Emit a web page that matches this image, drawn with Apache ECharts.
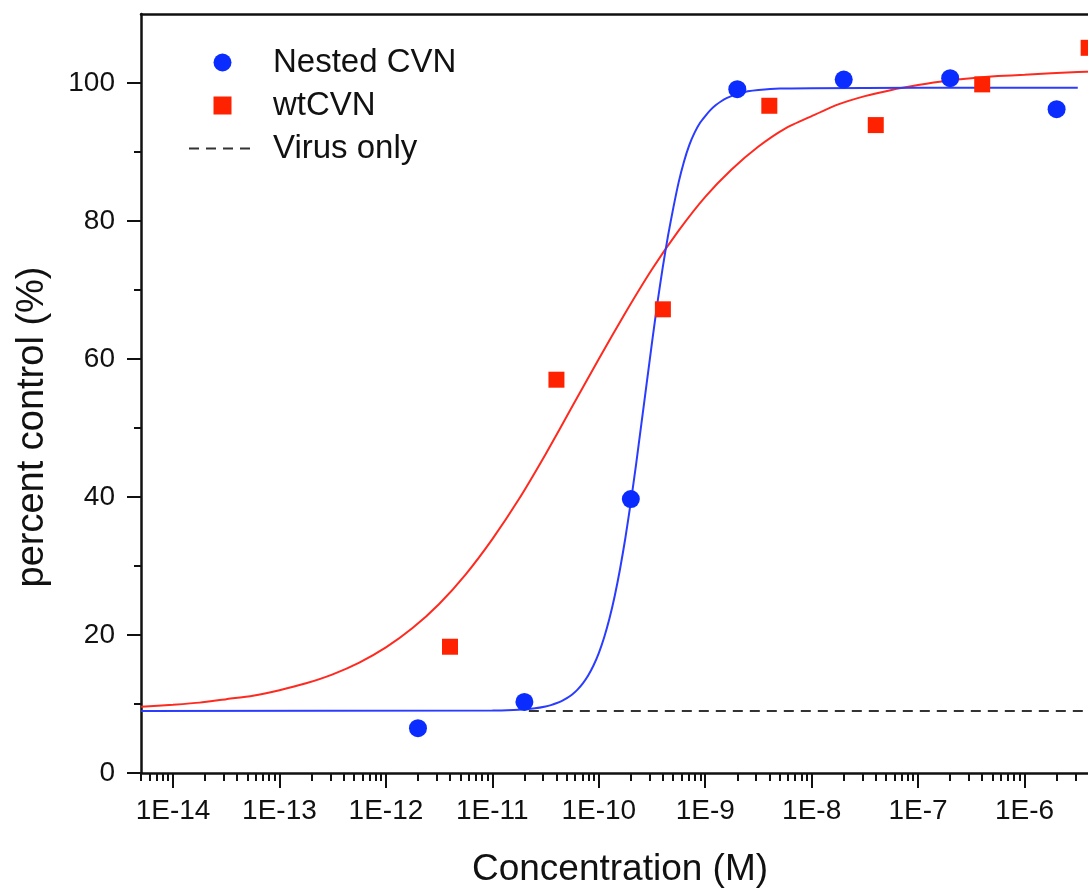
<!DOCTYPE html>
<html>
<head>
<meta charset="utf-8">
<script src="https://cdn.jsdelivr.net/npm/echarts@6/dist/echarts.min.js"></script>
<style>
  html, body { margin: 0; padding: 0; background: #fff; overflow: hidden; }
  /* the plot box runs past the right edge of the 1088px picture, as in the original */
  #chart { width: 1140px; height: 888px; }
</style>
</head>
<body>
<div id="chart"></div>
<script>
// measured points (concentration in M, percent control)
var nestedConc = [2e-12, 2e-11, 2e-10, 2e-9, 2e-8, 2e-7, 2e-6];
var nestedPct = [6.5, 10.3, 39.7, 99.1, 100.5, 100.7, 96.2];
var wtConc = [4e-12, 4e-11, 4e-10, 4e-9, 4e-8, 4e-7, 4e-6];
var wtPct = [18.3, 57.0, 67.2, 96.7, 93.9, 99.8, 105.1];

// fitted curves (log10 of concentration)
var nestedFitLog = [-14.3, -11.0, -10.8, -10.7, -10.6, -10.5, -10.45, -10.4, -10.35, -10.3, -10.25, -10.2, -10.15,
  -10.1, -10.05, -10.0, -9.95, -9.9, -9.85, -9.8, -9.75, -9.7, -9.65, -9.6, -9.55, -9.5, -9.45, -9.4, -9.35, -9.3,
  -9.25, -9.2, -9.15, -9.1, -9.05, -9.0, -8.95, -8.9, -8.85, -8.8, -8.7, -8.6, -8.5, -8.3, -8.0, -7.0, -5.5];
var nestedFitPct = [9.0, 9.05, 9.13, 9.23, 9.38, 9.65, 9.84, 10.1, 10.42, 10.85, 11.39, 12.09, 12.99,
  14.13, 15.58, 17.38, 19.63, 22.38, 25.69, 29.6, 34.1, 39.2, 44.7, 50.6, 56.5, 62.4, 68.05, 73.2, 77.85, 81.9,
  85.6, 88.6, 91.0, 92.8, 94.2, 95.2, 96.1, 96.8, 97.36, 97.8, 98.4, 98.8, 99.0, 99.2, 99.25, 99.3, 99.3];
var wtFitLog = [-14.3, -14.0, -13.75, -13.5, -13.25, -13.0, -12.75, -12.5, -12.25, -12.0, -11.75, -11.5, -11.25,
  -11.0, -10.75, -10.5, -10.25, -10.0, -9.75, -9.5, -9.25, -9.0, -8.75, -8.5, -8.25, -8.0, -7.75, -7.5, -7.25,
  -7.0, -6.75, -6.5, -6.25, -6.0, -5.5, -5.0];
var wtFitPct = [9.6, 9.9, 10.2, 10.7, 11.2, 12.0, 13.0, 14.3, 16.0, 18.2, 21.0, 24.5, 28.8,
  33.9, 39.7, 46.2, 53.1, 60.0, 66.7, 73.0, 78.6, 83.5, 87.5, 90.8, 93.4, 95.2, 96.9, 98.1, 99.0,
  99.7, 100.3, 100.7, 101.0, 101.2, 101.6, 101.8];

// virus only level
var virusConc = [2.2e-11, 1e-5];
var virusPct = [9, 9];

// axes
var xMinConc = 5e-15, xMaxConc = 1e-5;
var decades = [-14, -13, -12, -11, -10, -9, -8, -7, -6];
var minorMult = [2, 3, 4, 5, 6, 7, 8, 9];
var yMajor = [0, 20, 40, 60, 80, 100];
var yMinor = [10, 30, 50, 70, 90];

var xMin = Math.log10(xMinConc), xMax = Math.log10(xMaxConc);
var minorTicks = [];
for (var d = -15; d <= -6; d++) {
  minorMult.forEach(function (m) {
    var v = Math.log10(m) + d;
    if (v >= xMin - 1e-9 && v <= xMax) minorTicks.push(v);
  });
}

function pairs(xs, ys, toLog) {
  return xs.map(function (x, i) { return [toLog ? Math.log10(x) : x, ys[i]]; });
}

var ink = '#111';
var font = 'Liberation Sans, Arial, sans-serif';
var box = { left: 141, top: 14, width: 990, bottom: 115, outerBoundsMode: 'none' };

var chart = echarts.init(document.getElementById('chart'));
var option = {
  animation: false,
  backgroundColor: '#fff',
  grid: [box, box],
  legend: {
    data: [
      { name: 'Nested CVN', icon: 'circle' },
      { name: 'wtCVN', icon: 'path://M0,0H10V10H0Z' },
      { name: 'Virus only', itemStyle: { opacity: 0 } }
    ],
    orient: 'vertical',
    left: 183,
    top: 41,
    itemWidth: 67,
    itemHeight: 18,
    itemGap: 10,
    textStyle: { fontSize: 33, fontFamily: font, color: ink, lineHeight: 32, padding: [0, 0, 0, 12] }
  },
  xAxis: [
    {
      gridIndex: 0, type: 'value', position: 'bottom', min: xMin, max: xMax,
      name: 'Concentration (M)', nameLocation: 'middle', nameGap: 78,
      nameTextStyle: { fontSize: 37, fontFamily: font, color: ink, padding: [0, 32, 0, 0] },
      axisLine: { show: true, lineStyle: { color: ink, width: 2.5 } },
      axisTick: { show: true, length: 15, lineStyle: { color: ink, width: 2 }, customValues: decades },
      axisLabel: { margin: 24, fontSize: 28, fontFamily: font, color: ink, customValues: decades,
        formatter: function (v) { return '1E' + Math.round(v); } },
      splitLine: { show: false }
    },
    {
      gridIndex: 0, type: 'value', position: 'top', min: xMin, max: xMax,
      axisLine: { show: true, lineStyle: { color: ink, width: 2.5 } },
      axisTick: { show: false }, axisLabel: { show: false }, splitLine: { show: false }
    },
    {
      gridIndex: 1, type: 'value', position: 'bottom', min: xMin, max: xMax,
      axisLine: { show: false },
      axisTick: { show: true, length: 8, lineStyle: { color: ink, width: 2 }, customValues: minorTicks },
      axisLabel: { show: false }, splitLine: { show: false }
    }
  ],
  yAxis: [
    {
      gridIndex: 0, type: 'value', position: 'left', min: 0, max: 110,
      name: 'percent control (%)', nameLocation: 'middle', nameGap: 89,
      nameTextStyle: { fontSize: 38, fontFamily: font, color: ink, padding: [0, 67, 0, 0] },
      axisLine: { show: true, lineStyle: { color: ink, width: 2.5 } },
      axisTick: { show: true, length: 14, lineStyle: { color: ink, width: 2 }, customValues: yMajor },
      axisLabel: { margin: 26, fontSize: 28, fontFamily: font, color: ink, customValues: yMajor },
      splitLine: { show: false }
    },
    {
      gridIndex: 1, type: 'value', position: 'left', min: 0, max: 110,
      axisLine: { show: false },
      axisTick: { show: true, length: 7, lineStyle: { color: ink, width: 2 }, customValues: yMinor },
      axisLabel: { show: false }, splitLine: { show: false }
    }
  ],
  series: [
    {
      name: 'Virus only', type: 'line', xAxisIndex: 0, yAxisIndex: 0,
      data: pairs(virusConc, virusPct, true),
      symbol: 'none', showSymbol: false, color: '#333',
      lineStyle: { color: '#333', width: 2, type: [10, 7] }, z: 1
    },
    {
      name: 'wtCVN fit', type: 'line', xAxisIndex: 0, yAxisIndex: 0,
      data: pairs(wtFitLog, wtFitPct, false),
      symbol: 'none', smooth: 0.2,
      lineStyle: { color: '#ff2a1f', width: 2 }, z: 2
    },
    {
      name: 'Nested CVN fit', type: 'line', xAxisIndex: 0, yAxisIndex: 0,
      data: pairs(nestedFitLog, nestedFitPct, false),
      symbol: 'none', smooth: 0.2,
      lineStyle: { color: '#2a3cff', width: 2 }, z: 2
    },
    {
      name: 'Nested CVN', type: 'scatter', xAxisIndex: 0, yAxisIndex: 0,
      data: pairs(nestedConc, nestedPct, true),
      symbol: 'circle', symbolSize: 18,
      itemStyle: { color: '#0a2cff', opacity: 1 }, z: 3
    },
    {
      name: 'wtCVN', type: 'scatter', xAxisIndex: 0, yAxisIndex: 0,
      data: pairs(wtConc, wtPct, true),
      symbol: 'rect', symbolSize: 16,
      itemStyle: { color: '#ff2200', opacity: 1 }, z: 3
    }
  ]
};
chart.setOption(option);
</script>
</body>
</html>
